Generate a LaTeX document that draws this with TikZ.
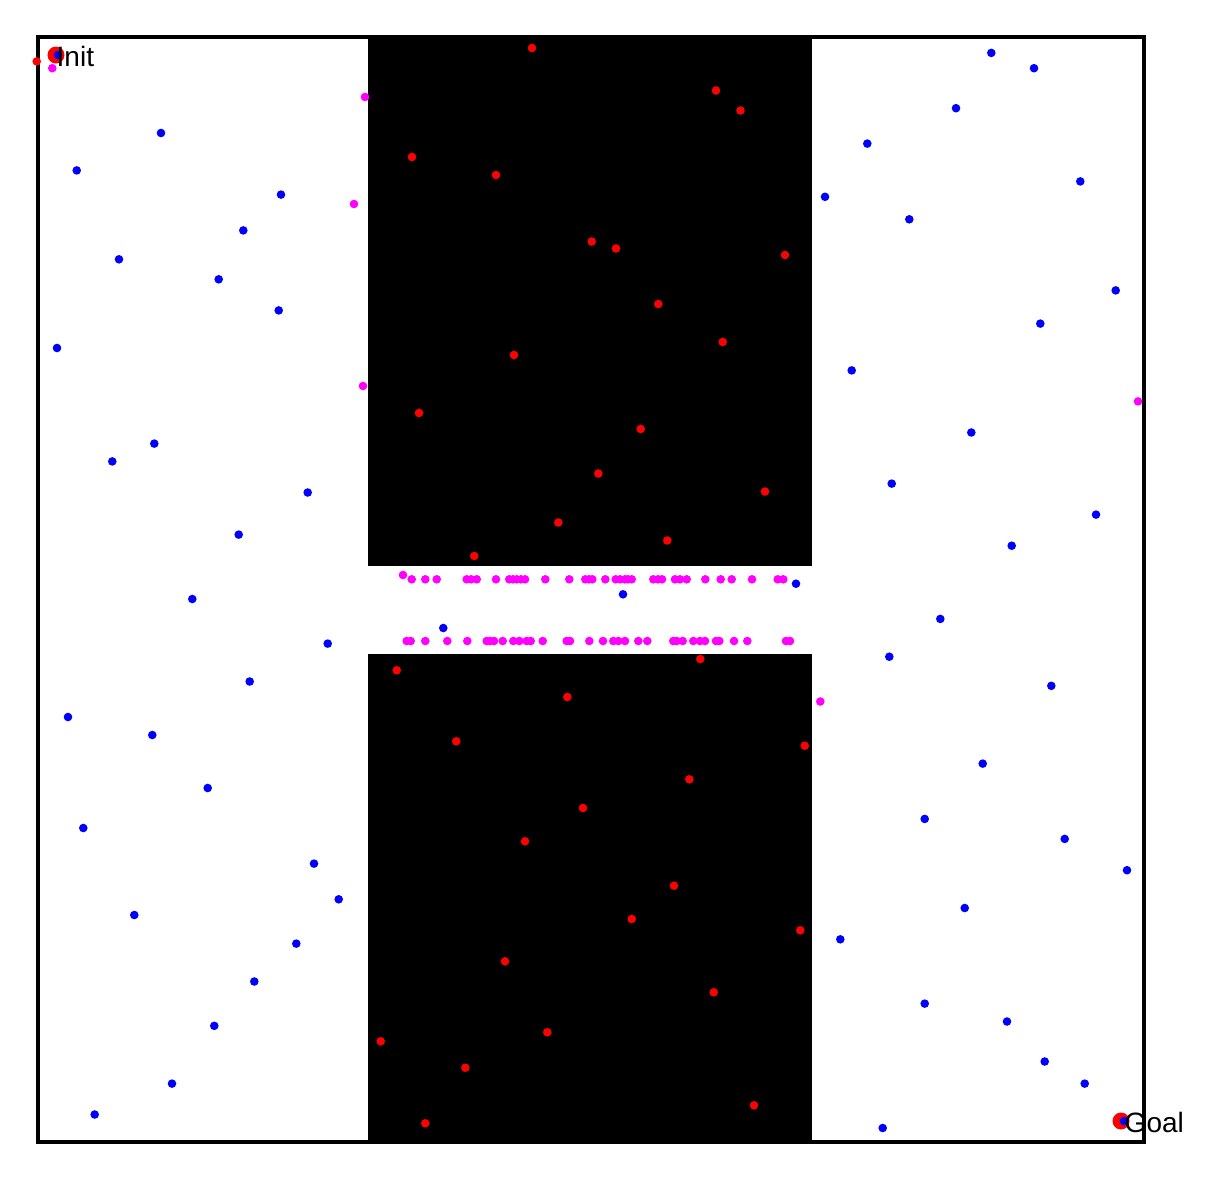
\documentclass[tikz,border=0pt]{standalone}
\usepackage{fontspec}
\setmainfont{Liberation Sans}
\definecolor{pblue}{RGB}{0,0,255}
\definecolor{pred}{RGB}{255,0,0}
\definecolor{pmag}{RGB}{255,0,255}
\tikzset{
  frameline/.style={draw=black, line width=3.6pt},
  obstacle/.style={fill=black},
  lbl/.style={anchor=west, inner sep=0pt, font=\fontsize{28}{30}\selectfont}
}
\begin{document}
\begin{tikzpicture}[x=1pt,y=-1pt]
\useasboundingbox (0,0) rectangle (1222,1179);
\fill[white] (0,0) rectangle (1222,1179);
% obstacles
\fill[obstacle] (368,37) rectangle (812,566);
\fill[obstacle] (368,654) rectangle (812,1142);
% frame
\draw[frameline] (38,37) rectangle (1144,1142);
% start / goal markers
\fill[pred] (56,55) circle (8.5);
\fill[pred] (1121,1121) circle (8.5);
% blue samples (free space)
\foreach \x/\y in {58/55,161/133,76.7/170.4,281/194.6,243.3/230.4,119/259.3,218.7/279.3,278.7/310.4,57/348,154.3/443.6,112.3/461.4,307.7/492.5,238.7/534.6,192.3/599,327.7/643.6,249.7/681.5,68/717,152.3/735,207.7/788,83.3/828,314/863.6,338.7/899.3,134.3/915,296.3/943.6,254.3/981.5,214.3/1025.8,172/1083.6,94.7/1114.5,
623/594.3,443.3/628,796/583.7,
991.3/52.9,1034/68.2,956/108.2,867.3/143.6,825/196.8,909.3/219.3,1080.3/181.4,1115.7/290.4,1040.3/323.6,851.7/370.4,971.3/432.5,891.7/483.6,1096/514.6,1011.7/545.7,940.3/618.9,889.3/656.7,1051.3/685.8,982.7/763.6,924.7/818.9,1064.7/838.9,1127/870.2,964.7/908,840.3/939.3,924.7/1003.6,1007/1021.5,1044.7/1061.5,1084.7/1083.6,882.7/1128,1124/1121}
  \fill[pblue] (\x,\y) circle (4.3);
% red samples (in collision)
\foreach \x/\y in {36.7/61.4,
532/48,716/90.5,740.5/110.5,412/157,496/175,591.7/241.5,616/248.5,785/255,658.3/304,722.7/342,514/355,419/413,640.7/429,598.3/473.5,765/491.5,558.3/522.5,667.3/540.5,474.3/556,
396.7/670.3,700.3/659,567.3/697,456.3/741.3,804.7/745.7,689.3/779.3,583/808,525/841.3,674/885.7,631.7/919,800.3/930.3,505/961.3,713.7/992.3,547.3/1032.3,380.7/1041.3,465.3/1067.7,754/1105.3,425.3/1123.3}
  \fill[pred] (\x,\y) circle (4.3);
% magenta samples
\foreach \x/\y in {52.3/68.2,365/97,354/204,363/386,1138/401.4,820.3/701.5,403/575}
  \fill[pmag] (\x,\y) circle (4.3);
\foreach \x in {411.7,425.3,436.7,466.7,471,476.7,496,509.3,513,516.7,521,525,545.3,569.3,585.3,589,592.3,605.3,615.7,620,625,628,631.7,653.3,658,662,675,680,686.7,705.3,720.7,731.7,752,777.7,783.3}
  \fill[pmag] (\x,579.3) circle (4.3);
\foreach \x in {406.7,410.7,425.3,447.3,467.3,486.7,490,494,502.7,513.3,519.3,526.7,530.7,542.7,566.7,570,589.3,603,613.3,618.3,625,638.3,647.3,673.3,676.7,682.7,693.3,700,705,716,719.3,734,747.3,786,790}
  \fill[pmag] (\x,641) circle (4.3);
% labels
\node[lbl] (init) at (56.5,56.5) {Init};
\node[lbl] (goal) at (1124.5,1122.5) {Goal};
\end{tikzpicture}
\end{document}
